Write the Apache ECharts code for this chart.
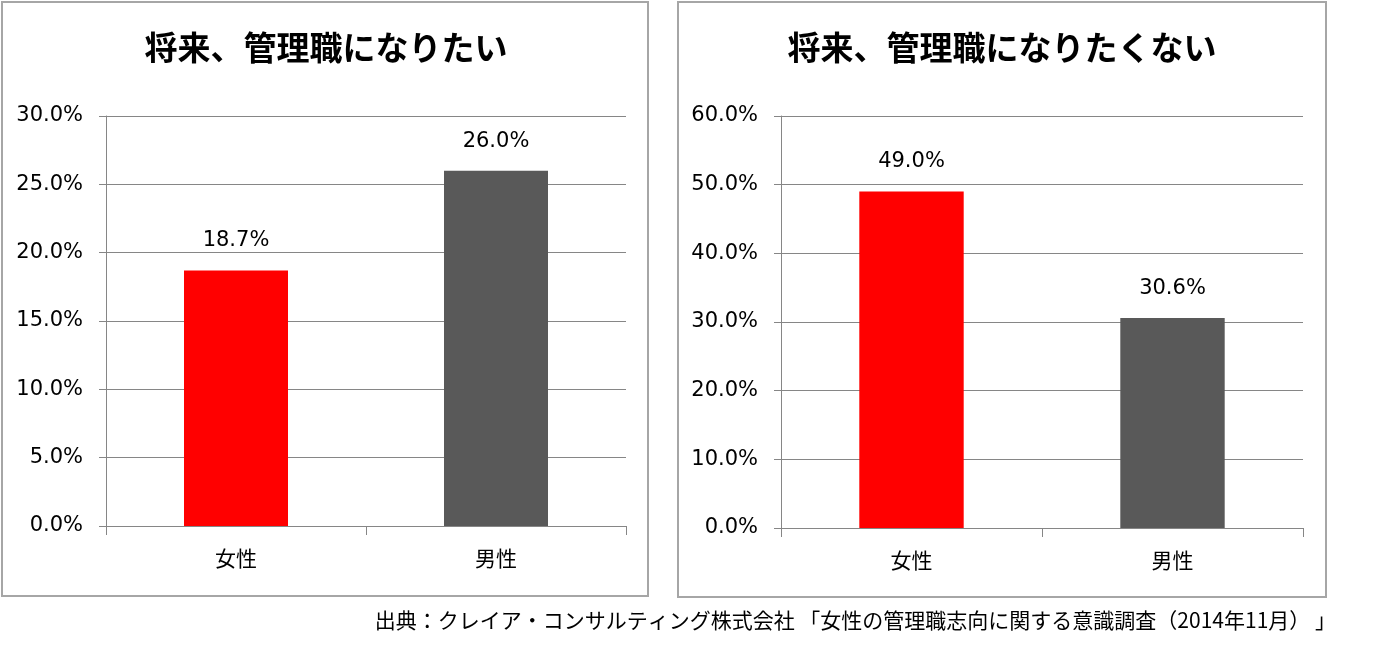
<!DOCTYPE html>
<html lang="ja">
<head>
  <meta charset="UTF-8">
  <title>管理職志向</title>
  <script src="https://cdn.jsdelivr.net/npm/echarts@6/dist/echarts.min.js"></script>
  <style>
    html, body { margin: 0; padding: 0; background: #fff; }
    #chart { width: 1386px; height: 648px; }
  </style>
</head>
<body>
  <div id="chart"></div>
  <script>
    // データ
    const categories = ['女性', '男性'];
    const wantValues = [18.7, 26.0];      // 将来、管理職になりたい
    const notWantValues = [49.0, 30.6];   // 将来、管理職になりたくない
    const leftTicks = { min: 0, max: 30, interval: 5 };
    const rightTicks = { min: 0, max: 60, interval: 10 };
    const titles = ['将来、管理職になりたい', '将来、管理職になりたくない'];
    const source = '出典：クレイア・コンサルティング株式会社 「女性の管理職志向に関する意識調査（2014年11月） 」';

    const FONT = '"Noto Sans CJK JP", sans-serif';
    const NUM_FONT = '"DejaVu Sans", "Noto Sans CJK JP", sans-serif';
    const barColors = ['#ff0000', '#595959'];

    function xAxisOf(idx) {
      return {
        type: 'category', gridIndex: idx, data: categories,
        axisLine: { lineStyle: { color: '#868686', width: 1 } },
        axisTick: { show: true, length: 9, alignWithLabel: false, lineStyle: { color: '#868686' } },
        axisLabel: { color: '#000', fontSize: 21, fontFamily: FONT, margin: 22 }
      };
    }
    function yAxisOf(idx, t) {
      return {
        type: 'value', gridIndex: idx, min: t.min, max: t.max, interval: t.interval,
        axisLine: { show: true, lineStyle: { color: '#868686', width: 1 } },
        axisTick: { show: true, length: 7, lineStyle: { color: '#868686' } },
        splitLine: { lineStyle: { color: '#868686', width: 1 } },
        axisLabel: { color: '#000', fontSize: 21, fontFamily: NUM_FONT, margin: 23,
          formatter: v => v.toFixed(1) + '%' }
      };
    }
    function barSeries(idx, values) {
      return {
        type: 'bar', xAxisIndex: idx, yAxisIndex: idx,
        data: values.map((v, i) => ({ value: v, itemStyle: { color: barColors[i] } })),
        barWidth: '40%',
        label: { show: true, position: 'top', distance: 19, color: '#000', fontSize: 21,
          fontFamily: NUM_FONT, formatter: p => p.value.toFixed(1) + '%' }
      };
    }

    const chart = echarts.init(document.getElementById('chart'));
    chart.setOption({
      animation: false,
      title: [
        { text: titles[0], left: 321, top: 26, textAlign: 'center',
          textStyle: { fontSize: 33, fontWeight: 'bold', color: '#000', fontFamily: FONT } },
        { text: titles[1], left: 997, top: 26, textAlign: 'center',
          textStyle: { fontSize: 33, fontWeight: 'bold', color: '#000', fontFamily: FONT } }
      ],
      grid: [
        { left: 106, top: 116, width: 520, height: 410 },
        { left: 781, top: 116, width: 522, height: 412 }
      ],
      xAxis: [xAxisOf(0), xAxisOf(1)],
      yAxis: [yAxisOf(0, leftTicks), yAxisOf(1, rightTicks)],
      series: [barSeries(0, wantValues), barSeries(1, notWantValues)],
      graphic: [
        { type: 'rect', shape: { x: 2, y: 2, width: 646, height: 594 },
          style: { fill: 'none', stroke: '#a6a6a6', lineWidth: 2 }, z: -1 },
        { type: 'rect', shape: { x: 678, y: 2, width: 648, height: 595 },
          style: { fill: 'none', stroke: '#a6a6a6', lineWidth: 2 }, z: -1 },
        { type: 'text', right: 50, top: 610,
          style: { text: source, fill: '#000', fontSize: 21, fontFamily: FONT } }
      ]
    });
  </script>
</body>
</html>
